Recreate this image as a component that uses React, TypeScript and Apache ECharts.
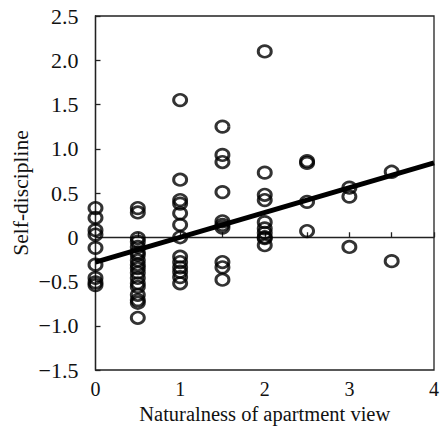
import React, { useEffect, useRef } from "react";
import * as echarts from "echarts";

const xValues: number[] = [
  0, 0, 0, 0, 0, 0, 0, 0, 0,
  0.5, 0.5, 0.5, 0.5, 0.5, 0.5, 0.5, 0.5, 0.5, 0.5, 0.5, 0.5, 0.5, 0.5, 0.5, 0.5, 0.5, 0.5,
  1, 1, 1, 1, 1, 1, 1, 1, 1, 1, 1, 1, 1,
  1.5, 1.5, 1.5, 1.5, 1.5, 1.5, 1.5, 1.5, 1.5, 1.5,
  2, 2, 2, 2, 2, 2, 2, 2, 2, 2,
  2.5, 2.5, 2.5, 2.5,
  3, 3, 3,
  3.5, 3.5,
];
const yValues: number[] = [
  0.33, 0.22, 0.08, 0.03, -0.12, -0.31, -0.46, -0.51, -0.54,
  0.33, 0.28, -0.01, -0.05, -0.11, -0.17, -0.2, -0.26, -0.31, -0.35, -0.4, -0.46, -0.52, -0.56, -0.65, -0.71, -0.74, -0.91,
  1.55, 0.65, 0.42, 0.38, 0.27, 0.14, 0.0, -0.22, -0.28, -0.34, -0.39, -0.45, -0.52,
  1.25, 0.93, 0.85, 0.51, 0.18, 0.14, 0.11, -0.28, -0.34, -0.48,
  2.1, 0.73, 0.48, 0.42, 0.17, 0.1, 0.05, -0.01, -0.09, 0.0,
  0.86, 0.84, 0.4, 0.07,
  0.56, 0.46, -0.11,
  0.74, -0.27,
];
const fitX: number[] = [0, 4];
const fitY: number[] = [-0.28, 0.84];
const xTicks: number[] = [0, 1, 2, 3, 4];
const yTickStep = 0.5;

const FONT = "'Liberation Serif', 'Times New Roman', serif";

export default function App() {
  const ref = useRef<HTMLDivElement>(null);
  useEffect(() => {
    if (!ref.current) return;
    const chart = echarts.init(ref.current, undefined, { renderer: "svg" });
    const fmtY = (v: number) => {
      if (Math.abs(v) < 1e-9) return "0";
      const s = Math.abs(v).toFixed(1);
      return v < 0 ? "\u2212" + s : s;
    };
    chart.setOption({
      animation: false,
      grid: {
        left: 95.5,
        right: 6,
        top: 16,
        bottom: 58,
        outerBoundsMode: "none",
        containLabel: false,
        show: true,
        borderColor: "#222",
        borderWidth: 1.3,
        backgroundColor: "transparent",
      },
      xAxis: {
        type: "value",
        min: 0,
        max: 4,
        interval: 0.5,
        name: "Naturalness of apartment view",
        nameLocation: "middle",
        nameGap: 33,
        nameMoveOverlap: false,
        nameTextStyle: { fontFamily: FONT, fontSize: 20.5, color: "#111" },
        axisLine: { show: true, lineStyle: { color: "#222", width: 1.3 } },
        axisTick: { show: true, inside: true, length: 5, lineStyle: { color: "#222", width: 1.3 } },
        splitLine: { show: false },
        axisLabel: {
          fontFamily: FONT,
          fontSize: 20,
          color: "#111",
          margin: 9,
          formatter: (v: number) => (xTicks.indexOf(v) >= 0 ? String(v) : ""),
        },
      },
      yAxis: {
        type: "value",
        min: -1.5,
        max: 2.5,
        interval: yTickStep,
        name: "Self-discipline",
        nameLocation: "middle",
        nameGap: 64,
        nameMoveOverlap: false,
        nameTextStyle: { fontFamily: FONT, fontSize: 21.5, color: "#111" },
        axisLine: { show: true, lineStyle: { color: "#222", width: 1.3 } },
        axisTick: { show: true, inside: true, length: 5, lineStyle: { color: "#222", width: 1.3 } },
        splitLine: { show: false },
        axisLabel: {
          fontFamily: FONT,
          fontSize: 22,
          color: "#111",
          margin: 17,
          padding: [3, 0, 0, 0],
          formatter: fmtY,
        },
      },
      series: [
        {
          type: "scatter",
          data: xValues.map((x, i) => [x, yValues[i]]),
          symbol: "circle",
          symbolSize: [13, 11.5],
          itemStyle: { color: "rgba(0,0,0,0)", borderColor: "#000", borderWidth: 2.8 },
          z: 2,
        },
        {
          type: "line",
          data: fitX.map((x, i) => [x, fitY[i]]),
          showSymbol: false,
          symbol: "none",
          lineStyle: { color: "#000", width: 5 },
          z: 3,
        },
      ],
    });
    return () => chart.dispose();
  }, []);
  return (
    <div
      ref={ref}
      style={{ position: "fixed", left: 0, top: 0, width: 440, height: 428, background: "#fff" }}
    />
  );
}
